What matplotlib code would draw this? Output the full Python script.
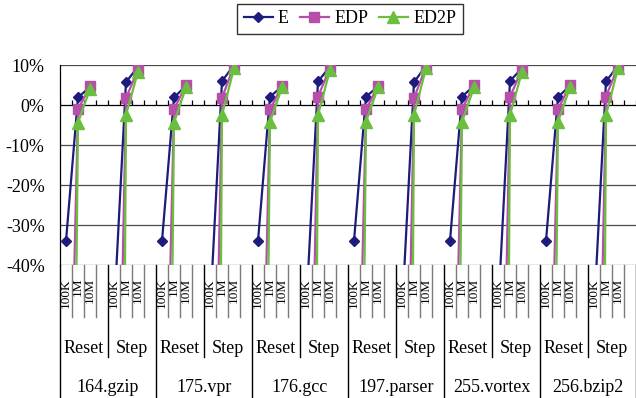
import matplotlib
matplotlib.use("Agg")
import matplotlib.pyplot as plt
import numpy as np

plt.rcParams['font.family'] = ['Liberation Serif', 'DejaVu Serif']

benchmarks = ['164.gzip', '175.vpr', '176.gcc', '197.parser', '255.vortex', '256.bzip2']
modes = ['Reset', 'Step']
sizes = ['100K', '1M', '10M']

# per benchmark: [Reset 100K, Reset 1M, Reset 10M, Step 100K, Step 1M, Step 10M]  (percent)
E = [
    [-34, 1.9, 4.5, -52, 5.7, 9.6],
    [-34, 1.9, 4.8, -52, 6.0, 9.9],
    [-34, 2.1, 4.6, -52, 5.9, 9.6],
    [-34, 2.1, 4.6, -52, 5.7, 9.8],
    [-34, 2.1, 4.8, -52, 6.0, 9.2],
    [-34, 2.0, 4.8, -52, 5.9, 9.8],
]
EDP = [
    [-130, -1.1, 4.7, -150, 1.7, 8.8],
    [-130, -1.1, 5.0, -150, 1.8, 9.8],
    [-130, -1.1, 4.7, -150, 2.1, 9.2],
    [-130, -1.1, 4.7, -150, 1.7, 9.6],
    [-130, -1.1, 5.0, -150, 2.1, 8.8],
    [-130, -1.1, 5.0, -150, 2.1, 9.6],
]
ED2P = [
    [-290, -4.4, 4.0, -450, -2.5, 8.3],
    [-290, -4.4, 4.4, -450, -2.5, 9.2],
    [-290, -4.2, 4.4, -450, -2.5, 8.8],
    [-290, -4.2, 4.4, -450, -2.5, 9.2],
    [-290, -4.2, 4.4, -450, -2.5, 8.3],
    [-290, -4.2, 4.4, -450, -2.5, 9.2],
]
series_names = ['E', 'EDP', 'ED2P']
series_data = [E, EDP, ED2P]
colors = ['#1c1c7c', '#b64fa9', '#6abf3f']
markers = ['D', 's', '^']
msizes = [4.8, 7.5, 8.5]

yticks = [-40, -30, -20, -10, 0, 10]

W, H = 636, 398
fig = plt.figure(figsize=(W / 100, H / 100), dpi=100)
ax = fig.add_axes([60 / W, 1 - 265 / H, 576 / W, 200 / H])

slots_per_mode = len(sizes) + 1
slots_per_group = slots_per_mode * len(modes)
nslots = slots_per_group * len(benchmarks)
ax.set_xlim(-0.5, nslots - 0.5)
ax.set_ylim(-40, 10)

# gridlines
for v in yticks:
    ax.axhline(v, color='#000000' if v == 0 else '#4a4a4a', lw=0.9, zorder=0)
# category axis tick marks on the 0 line
ax.vlines(np.arange(-0.5, nslots, 1), 0, 1.3, color='black', lw=0.9, zorder=1)

handles = []
for si, (name, data) in enumerate(zip(series_names, series_data)):
    for g in range(len(benchmarks)):
        for m in range(len(modes)):
            xs = [g * slots_per_group + m * slots_per_mode + s for s in range(len(sizes))]
            ys = data[g][m * 3:(m + 1) * 3]
            ln, = ax.plot(xs, ys, color=colors[si], lw=1.6, marker=markers[si],
                          ms=msizes[si], mfc=colors[si], mec=colors[si], zorder=3 + si)
    handles.append(ln)

for sp in ['top', 'right', 'bottom']:
    ax.spines[sp].set_visible(False)
ax.spines['left'].set_color('black')
ax.spines['left'].set_linewidth(0.9)

ax.set_xticks([])
ax.set_yticks(yticks)
ax.set_yticklabels([f'{v}%' for v in yticks], fontsize=13)
ax.tick_params(axis='y', length=0, pad=11)

trans = ax.get_xaxis_transform()
bottom = -(H - 265) / 200
# column separators
for k in range(nslots + 1):
    x = k - 0.5
    if k % slots_per_group == 0:
        ax.plot([x, x], [0, bottom], transform=trans, clip_on=False, color='black', lw=1)
    elif k % slots_per_mode == 0:
        ax.plot([x, x], [0, -0.46], transform=trans, clip_on=False, color='black', lw=1)
    else:
        ax.plot([x, x], [0, -0.26], transform=trans, clip_on=False, color='#7a7a7a', lw=1)

for g, b in enumerate(benchmarks):
    for m, md in enumerate(modes):
        base = g * slots_per_group + m * slots_per_mode
        for s, sz in enumerate(sizes):
            ax.text(base + s, -0.065, sz, rotation=90, ha='center', va='top',
                    transform=trans, fontsize=9.5)
        ax.text(base + (slots_per_mode - 1) / 2, -0.44, md, ha='center', va='baseline',
                transform=trans, fontsize=13)
    ax.text(g * slots_per_group + (slots_per_group - 1) / 2, -0.635, b, ha='center',
            va='baseline', transform=trans, fontsize=13)

leg = fig.legend(handles, series_names, loc='upper center', bbox_to_anchor=(350 / W, 1 - 4 / H),
                 ncol=3, frameon=True, fancybox=False, edgecolor='black', fontsize=13,
                 handlelength=1.6, handletextpad=0.3, columnspacing=0.6, borderpad=0.35,
                 borderaxespad=0)
leg.get_frame().set_linewidth(1)

fig.savefig('out.png', dpi=100)
